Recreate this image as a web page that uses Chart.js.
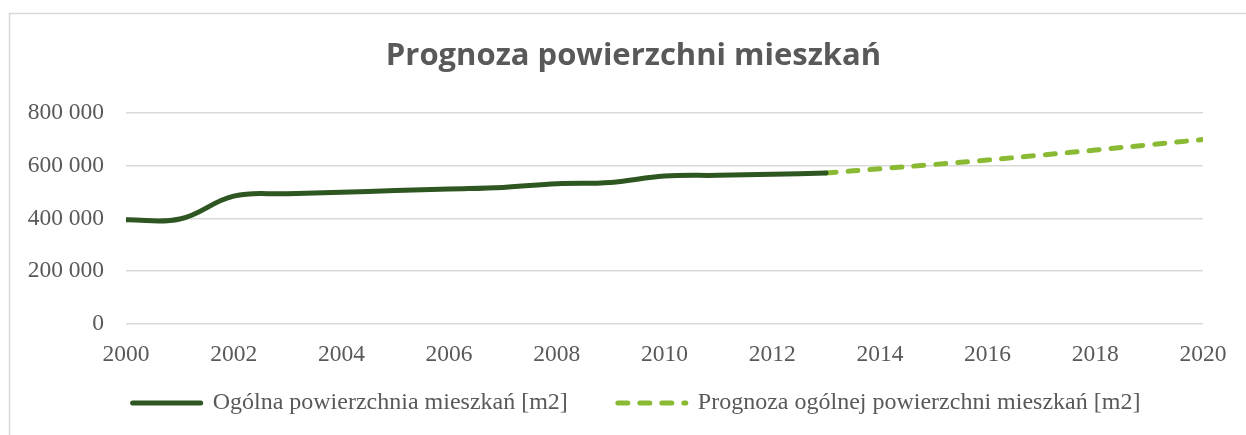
<!DOCTYPE html>
<html>
<head>
<meta charset="utf-8">
<script src="https://cdn.jsdelivr.net/npm/chart.js@4"></script>
<style>
  html, body { margin: 0; padding: 0; background: #fff; }
  #wrap { width: 1246px; height: 435px; }
</style>
</head>
<body>
<div id="wrap"><canvas id="myChart" width="1246" height="435"></canvas></div>
<script>
// data
const years_hist = [2000, 2001, 2002, 2003, 2004, 2005, 2006, 2007, 2008, 2009, 2010, 2011, 2012, 2013];
const area_hist = [395000, 398000, 485000, 494000, 500000, 506000, 512000, 518000, 532000, 537000, 561000, 564000, 568000, 573000];
const years_fc = [2013, 2014, 2015, 2016, 2017, 2018, 2019, 2020];
const area_fc = [573000, 589000, 605000, 622000, 641000, 660000, 680000, 700000];
const x_ticks = [2000, 2002, 2004, 2006, 2008, 2010, 2012, 2014, 2016, 2018, 2020];
const y_ticks = [0, 200000, 400000, 600000, 800000];

const chart_title = 'Prognoza powierzchni mieszkań';
const label_hist = 'Ogólna powierzchnia mieszkań [m2]';
const label_fc = 'Prognoza ogólnej powierzchni mieszkań [m2]';

const txt = '#595959';
const serif = "'Liberation Serif', 'Times New Roman', serif";

function pts(xs, ys) {
  return xs.map(function(x, i) { return {x: x, y: ys[i]}; });
}

// thin grey frame, only top and left visible in the reference
const frame = {
  id: 'frame',
  beforeDraw(chart) {
    const c = chart.ctx;
    c.save();
    c.fillStyle = '#fff';
    c.fillRect(0, 0, chart.width, chart.height);
    c.strokeStyle = '#d9d9d9';
    c.lineWidth = 1.5;
    c.beginPath();
    c.moveTo(9.5, chart.height + 2);
    c.lineTo(9.5, 13.5);
    c.lineTo(chart.width + 2, 13.5);
    c.stroke();
    c.restore();
  }
};

// title and legend are centred on the whole frame, not only on the plot
const nudge = {
  id: 'nudge',
  afterLayout(chart) {
    const t = chart.titleBlock;
    if (t) { t.left += 32; t.right += 32; }
    const lg = chart.legend;
    if (lg) {
      const h = lg.bottom - lg.top;
      lg.left += 35; lg.right += 35;
      lg.top = 341; lg.bottom = 341 + h;
    }
  }
};

const ctx = document.getElementById('myChart');
new Chart(ctx, {
  type: 'line',
  data: {
    datasets: [
      {
        label: label_hist,
        data: pts(years_hist, area_hist),
        borderColor: '#2e5620',
        backgroundColor: '#2e5620',
        borderWidth: 5,
        borderCapStyle: 'round',
        tension: 0.4,
        pointRadius: 0,
        fill: false
      },
      {
        label: label_fc,
        data: pts(years_fc, area_fc),
        borderColor: '#8aba34',
        backgroundColor: '#8aba34',
        borderWidth: 5,
        borderDash: [10, 12],
        borderCapStyle: 'round',
        tension: 0.4,
        pointRadius: 0,
        fill: false
      }
    ]
  },
  options: {
    responsive: false,
    animation: false,
    layout: { padding: { top: 38, right: 43, bottom: -27, left: 0 } },
    plugins: {
      title: {
        display: true,
        text: chart_title,
        color: txt,
        font: { family: "'Open Sans', sans-serif", size: 31, weight: 'bold', lineHeight: 1.2 },
        padding: { top: 0, bottom: 38 }
      },
      legend: {
        position: 'bottom',
        labels: {
          color: txt,
          font: { family: serif, size: 24 },
          usePointStyle: true,
          pointStyle: 'line',
          pointStyleWidth: 68,
          boxHeight: 5,
          padding: 50,
          generateLabels: function(chart) {
            return chart.data.datasets.map(function(ds, i) {
              return {
                text: ds.label,
                datasetIndex: i,
                fillStyle: ds.borderColor,
                strokeStyle: ds.borderColor,
                fontColor: txt,
                lineWidth: 5,
                lineCap: 'round',
                lineDash: ds.borderDash || [],
                pointStyle: 'line',
                hidden: false
              };
            });
          }
        }
      },
      tooltip: { enabled: false }
    },
    scales: {
      x: {
        type: 'linear',
        min: 2000,
        max: 2020,
        afterBuildTicks: function(s) {
          s.ticks = x_ticks.map(function(v) { return {value: v}; });
        },
        grid: { display: false },
        border: { display: false },
        ticks: {
          color: txt,
          font: { family: serif, size: 23.5 },
          padding: 9,
          maxRotation: 0,
          callback: function(v) { return String(v); }
        }
      },
      y: {
        min: 0,
        max: 800000,
        afterBuildTicks: function(s) {
          s.ticks = y_ticks.map(function(v) { return {value: v}; });
        },
        afterFit: function(s) { s.width = 126; },
        grid: { color: '#d9d9d9', lineWidth: 1.5, drawTicks: false },
        border: { display: false },
        ticks: {
          color: txt,
          font: { family: serif, size: 23.5 },
          padding: 22,
          callback: function(v) {
            return String(v).replace(/\B(?=(\d{3})+(?!\d))/g, ' ');
          }
        }
      }
    }
  },
  plugins: [frame, nudge]
});
</script>
</body>
</html>
